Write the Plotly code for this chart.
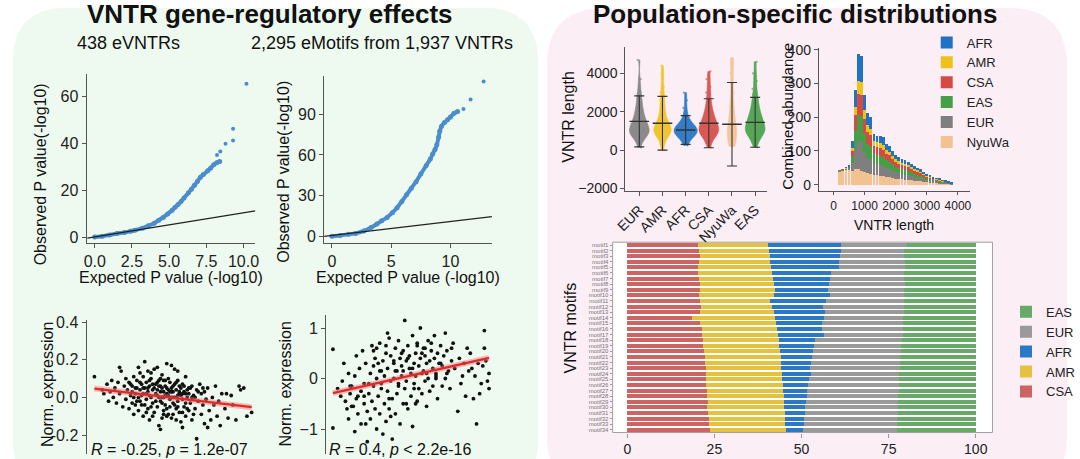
import plotly.graph_objects as go

W, H = 1080, 459
FONT = "Liberation Sans, Arial, sans-serif"

# ---------------- data ----------------
# QQ plot: 438 eVNTRs
qq1_band_x = [0.0, 0.5, 1.0, 1.5, 2.0, 2.4, 2.7, 3.2, 3.6, 4.0, 4.3, 4.6, 4.9, 5.2, 5.4, 5.6, 5.8,
              6.0, 6.3, 6.5, 6.7, 6.9, 7.1, 7.3, 7.6, 7.8, 8.0, 8.2, 8.4]
qq1_band_y = [0.1, 0.5, 1.0, 1.6, 2.1, 2.6, 3.0, 3.9, 4.9, 6.0, 7.3, 8.5, 10.0, 11.6, 12.8, 14.0, 15.3,
              16.8, 19.0, 20.5, 22.2, 23.8, 25.6, 26.8, 28.4, 29.6, 31.0, 31.8, 32.4]
qq1_tail_x = [8.22, 8.44, 8.79, 9.3, 9.3, 10.2]
qq1_tail_y = [35.1, 36.6, 40.0, 41.3, 46.4, 65.6]
qq1_ref_x = [-0.5, 10.8]
qq1_ref_y = [-0.3, 11.3]

# QQ plot: 2,295 eMotifs
qq2_band_x = [0.0, 0.7, 1.4, 2.0, 2.7, 3.3, 3.8, 4.2, 4.65, 5.1, 5.5, 5.9, 6.3, 6.7, 7.1, 7.5, 7.96,
              8.3, 8.5, 8.7, 8.85, 9.0, 9.1, 9.25, 9.5, 9.75, 10.0, 10.3, 10.6]
qq2_band_y = [0.1, 0.7, 1.5, 2.2, 4.0, 6.5, 9.1, 11.5, 13.9, 17.5, 21.1, 25.8, 30.7, 35.5, 40.3, 46.0,
              52.3, 57.0, 60.7, 64.0, 67.5, 73.0, 77.5, 81.1, 84.0, 85.9, 88.0, 90.7, 92.0]
qq2_tail_x = [11.1, 11.7, 12.8]
qq2_tail_y = [93.8, 100.8, 114.2]
qq2_ref_x = [-0.66, 13.5]
qq2_ref_y = [0.0, 14.6]

# eVNTR example (R = -0.25)
s1_x = [0.0, 0.5, 0.6, 0.8, 0.9, 1.0, 1.1, 1.2, 1.3, 1.4, 1.5, 1.6, 1.6, 1.7, 1.8, 1.9, 2.0, 2.0,
        2.1, 2.2, 2.2, 2.3, 2.4, 2.4, 2.5, 2.5, 2.6, 2.6, 2.7, 2.7, 2.8, 2.8, 2.9, 2.9, 3.0, 3.0,
        3.1, 3.1, 3.2, 3.2, 3.3, 3.3, 3.4, 3.4, 3.5, 3.5, 3.6, 3.6, 3.7, 3.7, 3.8, 3.8, 3.9, 3.9,
        4.0, 4.0, 4.1, 4.1, 4.2, 4.2, 4.3, 4.3, 4.4, 4.4, 4.5, 4.5, 4.6, 4.6, 4.7, 4.7, 4.8, 4.8,
        4.9, 4.9, 5.0, 5.0, 5.1, 5.1, 5.2, 5.2, 5.3, 5.3, 5.4, 5.4, 5.5, 5.5, 5.6, 5.6, 5.7, 5.7,
        5.8, 5.8, 5.9, 5.9, 6.0, 6.0, 6.1, 6.2, 6.2, 6.3, 6.4, 6.5, 6.5, 6.6, 6.7, 6.8, 6.9, 7.0,
        7.0, 7.1, 7.2, 7.3, 7.4, 7.5, 7.6, 7.7, 7.8, 7.9, 8.0, 8.1, 8.3, 8.4, 8.5, 8.7, 8.8, 9.0,
        9.2, 9.3, 9.5, 9.7, 10.0, 2.3, 2.6, 2.9, 3.1, 3.3, 3.5, 3.6, 3.8, 4.0, 4.1, 4.2, 4.3, 4.4,
        4.5, 4.6, 4.7, 4.8, 4.9, 5.0, 5.1, 5.2, 5.3, 5.4, 5.6, 5.8, 6.1, 6.4, 6.8, 3.4, 4.0, 4.9,
        5.3, 2.8, 3.7, 4.4, 5.0, 5.6, 6.3, 7.2, 4.2,
        2.4, 2.7, 2.9, 3.0, 3.2, 3.4, 3.5, 3.7, 3.9, 4.0, 4.1, 4.2, 4.3, 4.4, 4.5, 4.6, 4.7, 4.8,
        4.9, 5.0, 5.1, 5.2, 5.3, 5.4, 5.5, 5.6, 5.7, 5.8, 5.9, 6.0, 6.2, 6.6, 3.1, 3.6, 4.3, 4.6,
        5.2, 3.3, 2.5, 6.9]
s1_y = [0.11, 0.04, 0.02, 0.07, -0.02, 0.03, 0.09, 0.0, 0.05, -0.03, 0.08, 0.16, 0.02, 0.14, -0.05,
        0.06, 0.10, -0.01, 0.04, -0.06, 0.08, 0.01, -0.03, 0.06, 0.11, -0.09, 0.02, 0.05, -0.02, 0.09,
        0.0, -0.07, 0.04, 0.13, -0.04, 0.07, 0.02, -0.10, 0.05, 0.19, -0.01, 0.08, 0.03, -0.06, 0.06,
        -0.12, 0.0, 0.10, -0.03, 0.04, 0.15, -0.08, 0.02, 0.07, -0.05, 0.01, 0.09, -0.15, 0.03, -0.02,
        0.05, 0.12, -0.07, 0.0, 0.06, -0.04, 0.02, 0.18, -0.09, 0.04, -0.01, 0.08, 0.03, -0.11, 0.06,
        -0.03, 0.0, 0.15, -0.06, 0.04, 0.09, -0.02, 0.02, -0.08, 0.05, -0.13, -0.01, 0.07, 0.03, -0.05,
        0.11, -0.10, 0.0, 0.04, -0.07, 0.02, -0.03, 0.06, -0.12, 0.01, -0.06, 0.04, -0.22, -0.02, 0.07,
        -0.09, -0.04, 0.03, -0.14, -0.01, 0.05, -0.07, -0.12, 0.0, -0.04, 0.06, -0.10, -0.02, -0.15,
        0.02, -0.06, 0.02, -0.11, 0.01, -0.04, -0.12, 0.06, 0.04, 0.05, -0.10, -0.08, 0.07, -0.04,
        -0.02, 0.05, 0.02, 0.01, -0.05, 0.05, 0.08, 0.0, 0.06, -0.03, 0.09, 0.01, -0.06, 0.10, 0.03,
        0.05, 0.0, -0.04, 0.08, 0.01, 0.06, 0.02, -0.03, 0.05, 0.0, 0.02, 0.14, 0.16, 0.17, 0.14,
        0.16, -0.10, -0.09, -0.09, -0.16, -0.09, -0.16, -0.17,
        0.03, 0.05, 0.08, 0.01, -0.04, 0.05, 0.09, 0.07, -0.02, 0.04, 0.06, 0.10, 0.0, 0.03, 0.09,
        0.05, 0.01, -0.05, 0.0, 0.03, 0.07, 0.0, -0.05, 0.03, 0.01, -0.08, 0.06, 0.02, -0.06, 0.05,
        0.0, 0.03, 0.11, 0.13, -0.11, -0.10, -0.12, -0.08, 0.0, 0.05]
s1_fit_x = [0.0, 10.0]
s1_fit_y = [0.047, -0.052]

# eMotif example (R = 0.4)
s2_x = [0.0, 0.0, 0.3, 0.5, 0.6, 0.8, 0.9, 1.0, 1.0, 1.1, 1.2, 1.3, 1.4, 1.4, 1.5, 1.6, 1.7, 1.8,
        1.8, 1.9, 2.0, 2.0, 2.1, 2.2, 2.2, 2.3, 2.4, 2.4, 2.5, 2.5, 2.6, 2.6, 2.7, 2.7, 2.8, 2.8,
        2.9, 3.0, 3.0, 3.0, 3.1, 3.2, 3.2, 3.3, 3.3, 3.4, 3.4, 3.5, 3.5, 3.6, 3.6, 3.7, 3.7, 3.8,
        3.8, 3.9, 3.9, 4.0, 4.0, 4.1, 4.1, 4.2, 4.2, 4.3, 4.3, 4.4, 4.4, 4.5, 4.5, 4.6, 4.6, 4.7,
        4.7, 4.8, 4.8, 4.9, 4.9, 5.0, 5.0, 5.1, 5.1, 5.2, 5.2, 5.3, 5.3, 5.4, 5.4, 5.5, 5.5, 5.6,
        5.6, 5.7, 5.7, 5.8, 5.8, 5.9, 5.9, 6.0, 6.0, 6.1, 6.1, 6.2, 6.2, 6.3, 6.4, 6.4, 6.5, 6.5,
        6.6, 6.7, 6.7, 6.8, 6.9, 7.0, 7.0, 7.1, 7.2, 7.3, 7.3, 7.5, 7.6, 7.7, 7.8, 8.0, 8.1, 8.2,
        8.4, 8.5, 8.7, 8.8, 9.0, 9.1, 9.3, 9.5, 9.6, 9.7, 9.7, 9.8, 9.9, 10.0, 10.0, 9.4, 8.9,
        1.6, 2.3, 3.1, 3.6, 4.4, 5.2, 5.9, 6.6, 7.4, 1.2, 2.9, 4.0,
        1.5, 2.0, 2.6, 3.1, 3.4, 3.9, 4.2, 4.5, 4.8, 5.1, 5.4, 5.7, 6.0, 6.3, 6.6, 6.9, 7.2, 7.6,
        8.3, 8.6, 9.2, 2.1, 3.7, 4.7, 5.3, 1.1, 0.7, 2.8, 3.5, 4.1]
s2_y = [0.58, -0.98, -0.2, -0.35, -0.05, -0.45, -0.6, 0.1, -0.8, -0.3, -0.15, -0.55, 0.05, -1.05,
        -0.4, -0.7, 0.2, -0.25, -0.9, 0.55, -0.1, -0.5, 0.3, -0.65, -1.25, -0.3, 0.1, -0.8, 0.65,
        -0.45, 0.25, -0.15, -0.6, 0.4, 0.0, -1.0, -0.35, 0.7, 0.15, -0.7, -0.2, 0.35, -1.1, -0.5,
        0.05, 0.5, -0.85, -0.25, 0.2, 0.8, -0.6, -0.05, 0.45, -0.4, -1.2, 0.3, 0.0, -0.7, 0.6, 0.15,
        -0.3, 0.75, -0.15, 0.4, -0.9, 0.05, 0.25, -0.5, 0.55, 1.15, -0.2, 0.35, -0.05, 0.65, -0.6,
        0.2, 0.45, -0.35, 0.1, 0.85, -0.95, 0.3, -0.1, 0.5, 0.05, -0.45, 0.7, 0.25, -0.2, 0.4, 1.0,
        0.1, -0.3, 0.6, 0.15, -0.05, 0.45, 0.3, -0.55, 0.75, 0.0, 0.35, -0.25, 0.55, 0.2, -0.15,
        0.85, 0.4, 0.05, 0.5, -0.4, 0.3, 0.65, -0.15, 0.25, 0.45, 0.9, 0.1, 0.55, -0.2, 0.35, 0.7,
        0.2, -0.65, 0.4, -0.1, 0.3, -0.35, 0.15, 0.5, -0.4, 0.05, 0.3, -0.1, 0.25, 0.95, 0.6, 0.35,
        -0.05, -0.2, 0.1, -0.3, 0.2, -0.35, -0.1, 0.15, -0.4, 0.5, -0.2, 0.6, 0.0, 0.15, -0.55, 0.3,
        0.15, 0.45, -0.35, 0.55, -0.1, 0.65, 0.35, -0.1, 0.15, 0.4, 0.2, 0.65, 0.5, 0.1, 0.7, 0.1,
        0.3, 0.0, 0.6, 0.05, 0.6, -0.9, -0.9, -0.75, -0.5, -0.5, -0.15, 0.3, 0.6, 0.9]
s2_fit_x = [0.0, 10.0]
s2_fit_y = [-0.29, 0.41]

# Population VNTR length distributions
pops = ["EUR", "AMR", "AFR", "CSA", "NyuWa", "EAS"]
len_EUR = [150, 400, 600, 700, 750, 800, 820, 850, 880, 900, 930, 960, 1000, 1040, 1080, 1120, 1160,
           1200, 1250, 1300, 1350, 1400, 1460, 1520, 1580, 1650, 1720, 1800, 1900, 2000, 2100, 2200,
           2350, 2500, 2650, 2800, 3000, 3300, 3700, 4700]
len_AMR = [0, 300, 500, 650, 750, 820, 870, 900, 930, 960, 990, 1020, 1050, 1080, 1120, 1160, 1200,
           1250, 1300, 1360, 1420, 1500, 1600, 1700, 1800, 1950, 2100, 2250, 2400, 2600, 2800, 3000,
           3300, 3700, 4000, 4400]
len_AFR = [250, 400, 550, 650, 720, 780, 820, 860, 890, 920, 940, 960, 980, 1000, 1020, 1040, 1060,
           1080, 1100, 1130, 1160, 1200, 1250, 1300, 1380, 1450, 1550, 1700, 1900, 2200, 2600, 3000]
len_CSA = [150, 400, 600, 700, 780, 840, 880, 920, 960, 1000, 1040, 1080, 1120, 1170, 1220, 1280,
           1340, 1400, 1470, 1540, 1620, 1700, 1800, 1900, 2000, 2150, 2300, 2500, 2700, 3000, 3300,
           3700, 4100]
len_NyuWa = [200, 300, 450, 600, 750, 900, 1000, 1100, 1250, 1400, 1600, 1800, 2000, 2300, 2600,
             3000, 3500, 4000, 4500, 4800]
len_EAS = [150, 400, 600, 720, 800, 860, 900, 950, 1000, 1050, 1100, 1150, 1200, 1260, 1320, 1380,
           1450, 1520, 1600, 1680, 1760, 1850, 1950, 2050, 2200, 2350, 2500, 2700, 2900, 3200, 3600,
           4000, 4600]
strip_mean = [1500, 1400, 1050, 1400, 1350, 1450]
strip_sd = [1330, 1400, 750, 1275, 2175, 1300]

# Combined abundance histogram (bin centres, counts per population)
hist_bins = [200, 300, 400, 500, 600, 700, 800, 900, 1000, 1100, 1200, 1300, 1400, 1500, 1600, 1700,
             1800, 1900, 2000, 2100, 2200, 2300, 2400, 2500, 2600, 2700, 2800, 2900, 3000, 3100, 3200,
             3300, 3400, 3500, 3600, 3700, 3800]
hist_NyuWa = [40, 42, 45, 45, 40, 45, 45, 42, 38, 35, 33, 30, 28, 27, 25, 24, 22, 20, 18, 17, 16, 15,
              14, 13, 12, 11, 10, 9, 8, 7, 6, 6, 5, 4, 4, 3, 2]
hist_EUR = [1, 1, 2, 4, 25, 60, 85, 85, 60, 45, 42, 32, 32, 32, 30, 26, 25, 22, 19, 17, 16, 15, 14, 13,
            11, 10, 9, 8, 6, 5, 4, 3, 3, 3, 2, 1, 1]
hist_EAS = [0, 1, 1, 2, 20, 55, 75, 75, 52, 40, 38, 28, 27, 27, 26, 22, 21, 18, 16, 15, 14, 13, 12, 11,
            10, 9, 8, 7, 5, 5, 4, 3, 3, 2, 2, 2, 1]
hist_CSA = [0, 1, 1, 2, 15, 45, 65, 65, 45, 36, 34, 24, 24, 24, 23, 20, 19, 17, 14, 13, 12, 12, 11, 10,
            9, 8, 8, 6, 5, 4, 3, 3, 2, 2, 2, 1, 1]
hist_AMR = [0, 0, 1, 2, 10, 25, 38, 38, 26, 20, 19, 14, 14, 14, 13, 11, 10, 9, 8, 8, 7, 7, 6, 6, 5, 5,
            4, 4, 3, 3, 2, 2, 2, 1, 1, 1, 0]
hist_AFR = [0, 0, 1, 3, 20, 50, 80, 77, 45, 36, 34, 22, 20, 21, 23, 17, 18, 14, 13, 12, 12, 10, 10, 9,
            8, 7, 6, 4, 3, 3, 3, 2, 2, 2, 1, 1, 1]

# VNTR motif composition (% per population)
motifs = ["motif1", "motif2", "motif3", "motif4", "motif5", "motif6", "motif7", "motif8", "motif9",
          "motif10", "motif11", "motif12", "motif13", "motif14", "motif15", "motif16", "motif17",
          "motif18", "motif19", "motif20", "motif21", "motif22", "motif23", "motif24", "motif25",
          "motif26", "motif27", "motif28", "motif29", "motif30", "motif31", "motif32", "motif33",
          "motif34"]
pct_CSA = [20.3, 20.5, 20.8, 20.6, 20.4, 20.2, 20.5, 20.8, 21.0, 20.7, 21.0, 21.2, 21.0, 18.6, 20.8,
           21.3, 21.5, 21.6, 21.8, 22.0, 22.2, 22.3, 22.5, 22.6, 22.5, 22.7, 22.8, 23.0, 23.2, 23.0,
           23.3, 23.5, 23.4, 23.6]
pct_AMR = [20.2, 20.3, 20.2, 20.4, 20.8, 21.3, 21.3, 21.2, 21.3, 21.3, 20.0, 20.3, 21.2, 23.9, 22.0,
           21.7, 21.7, 21.8, 21.8, 21.8, 21.8, 21.9, 21.6, 21.7, 22.0, 21.9, 22.0, 21.9, 21.8, 22.1,
           21.9, 21.8, 22.0, 21.9]
pct_AFR = [20.9, 20.5, 20.1, 19.9, 19.5, 17.1, 16.5, 15.9, 15.4, 16.3, 15.9, 14.7, 14.5, 13.9, 13.2,
           12.8, 13.2, 10.5, 10.0, 9.4, 9.0, 8.5, 8.3, 8.4, 7.7, 7.4, 6.9, 6.6, 6.3, 6.0, 5.9, 5.5,
           5.3, 5.0]
pct_EUR = [18.8, 18.2, 18.3, 18.7, 19.1, 20.9, 21.1, 21.7, 21.8, 21.1, 22.4, 23.3, 22.7, 22.8, 23.1,
           23.2, 22.6, 24.8, 25.0, 25.3, 25.4, 25.6, 25.8, 25.4, 25.8, 25.9, 26.2, 26.3, 26.4, 26.5,
           26.5, 26.7, 26.8, 26.9]
pct_EAS = [19.8, 20.5, 20.6, 20.4, 20.2, 20.5, 20.6, 20.4, 20.5, 20.6, 20.7, 20.5, 20.6, 20.8, 20.9,
           21.0, 21.0, 21.3, 21.4, 21.5, 21.6, 21.7, 21.8, 21.9, 22.0, 22.1, 22.1, 22.2, 22.3, 22.4,
           22.4, 22.5, 22.5, 22.6]

# ---------------- styling helpers ----------------
COL = {"EUR": "#7f7f7f", "AMR": "#efc11a", "AFR": "#1f72c4", "CSA": "#d44a45",
       "NyuWa": "#f3c292", "EAS": "#44a047"}
BARCOL = {"CSA": "#cc6464", "AMR": "#e3c240", "AFR": "#2a78c6", "EUR": "#9a9a9a", "EAS": "#68a868"}
QQBLUE = "#4a8dcb"


def dx(a, b):
    return [a / W, b / W]


def dy(top, bottom):
    return [1 - bottom / H, 1 - top / H]


def px(x):
    return x / W


def py(y):
    return 1 - y / H


def axis(**kw):
    base = dict(showline=True, linecolor="#555", linewidth=1, ticks="outside", ticklen=4,
                tickwidth=1, tickcolor="#555", showgrid=False, zeroline=False,
                tickfont=dict(family=FONT, size=16, color="#222"))
    base.update(kw)
    return base


def rrect(x0, y0, x1, y1, r):
    rx, ry = r / W, r / H
    X0, X1, Y0, Y1 = px(x0), px(x1), py(y0), py(y1)
    return (f"M{X0 + rx},{Y0} L{X1 - rx},{Y0} Q{X1},{Y0} {X1},{Y0 - ry} "
            f"L{X1},{Y1 + ry} Q{X1},{Y1} {X1 - rx},{Y1} L{X0 + rx},{Y1} "
            f"Q{X0},{Y1} {X0},{Y1 + ry} L{X0},{Y0 - ry} Q{X0},{Y0} {X0 + rx},{Y0} Z")


fig = go.Figure()

# ---- QQ plots ----
for xa, ya, bx, by, tx, ty, rx_, ry_ in [
    ("x", "y", qq1_band_x, qq1_band_y, qq1_tail_x, qq1_tail_y, qq1_ref_x, qq1_ref_y),
    ("x2", "y2", qq2_band_x, qq2_band_y, qq2_tail_x, qq2_tail_y, qq2_ref_x, qq2_ref_y),
]:
    fig.add_trace(go.Scatter(x=bx, y=by, mode="lines+markers", xaxis=xa, yaxis=ya,
                             line=dict(color=QQBLUE, width=4, shape="spline", smoothing=0.6),
                             marker=dict(color=QQBLUE, size=5), showlegend=False))
    fig.add_trace(go.Scatter(x=tx, y=ty, mode="markers", xaxis=xa, yaxis=ya,
                             marker=dict(color=QQBLUE, size=4), showlegend=False))
    fig.add_trace(go.Scatter(x=rx_, y=ry_, mode="lines", xaxis=xa, yaxis=ya,
                             line=dict(color="#222", width=1.3), showlegend=False))

# ---- example scatter plots ----
for xa, ya, sx, sy, fx, fy in [("x3", "y3", s1_x, s1_y, s1_fit_x, s1_fit_y),
                               ("x4", "y4", s2_x, s2_y, s2_fit_x, s2_fit_y)]:
    fig.add_trace(go.Scatter(x=sx, y=sy, mode="markers", xaxis=xa, yaxis=ya,
                             marker=dict(color="#111", size=3.8), showlegend=False))
    fig.add_trace(go.Scatter(x=fx, y=fy, mode="lines", xaxis=xa, yaxis=ya,
                             line=dict(color="rgba(240,120,120,0.45)", width=6), showlegend=False))
    fig.add_trace(go.Scatter(x=fx, y=fy, mode="lines", xaxis=xa, yaxis=ya,
                             line=dict(color="#e02a2a", width=2.2), showlegend=False))

# ---- population strip (violin-shaped swarm) ----
strip_vals = {"EUR": len_EUR, "AMR": len_AMR, "AFR": len_AFR, "CSA": len_CSA,
              "NyuWa": len_NyuWa, "EAS": len_EAS}
strip_width = {"EUR": 0.85, "AMR": 0.75, "AFR": 1.0, "CSA": 0.85, "NyuWa": 0.4, "EAS": 0.85}
for p in pops:
    vals = strip_vals[p]
    fig.add_trace(go.Violin(x=[p] * len(vals), y=vals, xaxis="x5", yaxis="y5", name=p,
                            fillcolor=COL[p], line=dict(color=COL[p], width=0.6), opacity=0.9,
                            points="all", pointpos=0, jitter=0.7, spanmode="hard",
                            bandwidth=280,
                            marker=dict(color=COL[p], size=2.2, opacity=0.7),
                            width=strip_width[p], scalemode="width",
                            box=dict(visible=False), meanline=dict(visible=False),
                            showlegend=False, hoverinfo="skip"))
fig.add_trace(go.Scatter(x=pops, y=strip_mean, mode="markers", xaxis="x5", yaxis="y5",
                         marker=dict(symbol="line-ew-open", size=14, color="#333",
                                     line=dict(color="#333", width=1.4)),
                         error_y=dict(type="data", array=strip_sd, color="#333",
                                      thickness=1.1, width=5),
                         showlegend=False))

# ---- combined abundance histogram (stacked) ----
hist_data = [("NyuWa", hist_NyuWa), ("EUR", hist_EUR), ("EAS", hist_EAS), ("CSA", hist_CSA),
             ("AMR", hist_AMR), ("AFR", hist_AFR)]
for p, vals in hist_data:
    fig.add_trace(go.Bar(x=hist_bins, y=vals, width=88, name=p, xaxis="x6", yaxis="y6",
                         marker=dict(color=COL[p], line=dict(width=0)), legend="legend"))

# ---- motif composition stacked bars ----
bar_data = [("CSA", pct_CSA), ("AMR", pct_AMR), ("AFR", pct_AFR), ("EUR", pct_EUR), ("EAS", pct_EAS)]
for p, vals in bar_data:
    fig.add_trace(go.Bar(y=motifs, x=vals, orientation="h", name=p, xaxis="x7", yaxis="y7",
                         marker=dict(color=BARCOL[p], line=dict(width=0)), legend="legend2"))

# ---------------- layout ----------------
shapes = [
    dict(type="path", path=rrect(2, 2, 537, 500, 55), xref="paper", yref="paper",
         fillcolor="#eefaef", line=dict(width=0), layer="below"),
    dict(type="path", path=rrect(546, 2, 1076, 500, 60), xref="paper", yref="paper",
         fillcolor="#fbeef5", line=dict(width=0), layer="below"),
    dict(type="rect", xref="x7 domain", yref="y7 domain", x0=0, x1=1, y0=0, y1=1,
         fillcolor="white", line=dict(color="#a0a0a0", width=1), layer="below"),
]


def ann(text, x, y, size=16, bold=False, angle=0, xanchor="center", yanchor="middle"):
    return dict(text=f"<b>{text}</b>" if bold else text, x=px(x), y=py(y), xref="paper",
                yref="paper", showarrow=False, textangle=angle, xanchor=xanchor,
                yanchor=yanchor, font=dict(family=FONT, size=size, color="#111"))


annotations = [
    ann("VNTR gene-regulatory effects", 264, 8, size=26, bold=True),
    ann("Population-specific distributions", 799, 8, size=26, bold=True),
    ann("438 eVNTRs", 120, 38, size=18),
    ann("2,295 eMotifs from 1,937 VNTRs", 378, 38, size=18),
    ann("Observed P value(-log10)", 30, 172, angle=-90),
    ann("Expected P value (-log10)", 163, 278),
    ann("Observed P value(-log10)", 278, 170, angle=-90),
    ann("Expected P value (-log10)", 404, 278),
    ann("Norm. expression", 37, 388, angle=-90),
    ann("Norm. expression", 280, 387, angle=-90),
    ann("<i>R</i> = -0.25, <i>p</i> = 1.2e-07", 79, 454, size=16, xanchor="left", yanchor="middle"),
    ann("<i>R</i> = 0.4, <i>p</i> &lt; 2.2e-16", 322, 454, size=16, xanchor="left", yanchor="middle"),
    ann("VNTR length", 568, 113, size=16, angle=-90),
    ann("Combined abundance", 791, 113, size=15, angle=-90),
    ann("VNTR length", 900, 224, size=14),
    ann("VNTR motifs", 570, 330, size=16, angle=-90),
]

fig.update_layout(
    width=W, height=H, margin=dict(l=0, r=0, t=0, b=0),
    paper_bgcolor="white", plot_bgcolor="rgba(0,0,0,0)",
    font=dict(family=FONT, color="#222"),
    barmode="stack", bargap=0.28, violinmode="overlay",
    shapes=shapes, annotations=annotations,
    # QQ 1
    xaxis=axis(domain=dx(77, 249), anchor="y", range=[-0.55, 10.8],
               tickvals=[0, 2.5, 5, 7.5, 10], ticktext=["0.0", "2.5", "5.0", "7.5", "10.0"]),
    yaxis=axis(domain=dy(70, 243), anchor="x", range=[-2.5, 69.6], tickvals=[0, 20, 40, 60]),
    # QQ 2
    xaxis2=axis(domain=dx(319, 490), anchor="y2", range=[-0.66, 13.5], tickvals=[0, 5, 10]),
    yaxis2=axis(domain=dy(72, 243), anchor="x2", range=[-5, 118], tickvals=[0, 30, 60, 90]),
    # scatter 1
    xaxis3=axis(domain=dx(77, 250), anchor="y3", range=[-0.5, 10.3], showline=False,
                showticklabels=False, ticks=""),
    yaxis3=axis(domain=dy(322, 459), anchor="x3", range=[-0.301, 0.41],
                tickvals=[-0.2, 0, 0.2, 0.4], ticktext=["-0.2", "0.0", "0.2", "0.4"]),
    # scatter 2
    xaxis4=axis(domain=dx(321, 495), anchor="y4", range=[-0.44, 10.5], showline=False,
                showticklabels=False, ticks=""),
    yaxis4=axis(domain=dy(317, 459), anchor="x4", range=[-1.495, 1.25], tickvals=[-1, 0, 1]),
    # strip plot
    xaxis5=axis(domain=dx(626, 770), anchor="y5", type="category", categoryorder="array",
                categoryarray=pops, range=[-0.6, 5.5], tickangle=-45,
                tickfont=dict(family=FONT, size=14, color="#222")),
    yaxis5=axis(domain=dy(42, 190), anchor="x5", range=[-2150, 5374],
                tickvals=[-2000, 0, 2000, 4000],
                tickfont=dict(family=FONT, size=14, color="#222")),
    # histogram
    xaxis6=axis(domain=dx(823, 977), anchor="y6", range=[-473, 4385], tickangle=0,
                tickvals=[0, 1000, 2000, 3000, 4000], ticklen=3,
                tickfont=dict(family=FONT, size=12, color="#222")),
    yaxis6=axis(domain=dy(43, 190), anchor="x6", range=[-20, 405],
                tickvals=[0, 100, 200, 300, 400],
                tickfont=dict(family=FONT, size=14, color="#222")),
    # motif bars
    xaxis7=axis(domain=dx(613, 1000), anchor="y7", range=[-4.2, 104.8],
                tickvals=[0, 25, 50, 75, 100], showline=False, tickcolor="#999",
                tickfont=dict(family=FONT, size=14, color="#222")),
    yaxis7=axis(domain=dy(242, 437), anchor="x7", type="category", autorange="reversed",
                tickmode="array", tickvals=motifs, ticktext=motifs, showline=False,
                ticklen=2, tickcolor="#999",
                tickfont=dict(family=FONT, size=6, color="#777")),
    legend=dict(x=px(933), y=py(22), xanchor="left", yanchor="top", traceorder="reversed",
                bgcolor="rgba(0,0,0,0)", font=dict(family=FONT, size=13, color="#222"),
                tracegroupgap=0),
    legend2=dict(x=px(1014), y=py(298), xanchor="left", yanchor="top", traceorder="reversed",
                 bgcolor="rgba(0,0,0,0)", font=dict(family=FONT, size=13, color="#222"),
                 tracegroupgap=0),
)

fig.write_html("out.html", config={"displayModeBar": False},
               post_script="document.body.style.margin='0';document.body.style.overflow='hidden';")
